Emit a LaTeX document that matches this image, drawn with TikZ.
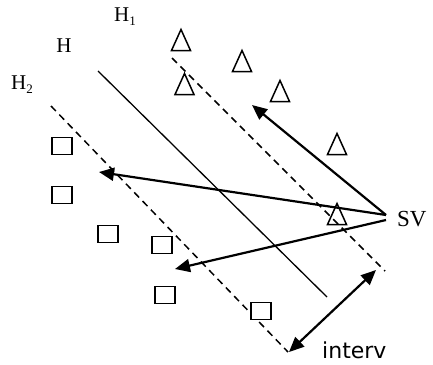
\documentclass[tikz,border=0pt]{standalone}
\usepackage{fontspec}
\setmainfont{Liberation Serif}
\newfontfamily\sansf{DejaVu Sans}
\usetikzlibrary{arrows.meta}
\tikzset{
  shapeline/.style={line width=1.5pt, black},
  hyper/.style={line width=1.3pt},
  margin/.style={line width=1.5pt, dash pattern=on 7pt off 5pt},
  vec/.style={line width=2.2pt, -{Triangle[length=15pt,width=13pt]}},
  dvec/.style={line width=2.2pt, {Triangle[length=15pt,width=13pt]}-{Triangle[length=15pt,width=13pt]}},
  lbl/.style={inner sep=0pt, font=\fontsize{21}{21}\selectfont},
  tri/.pic={\draw[shapeline] (-9.5,10.5) -- (0,-10.5) -- (9.5,10.5) -- cycle;},
  sq/.pic={\draw[shapeline, fill=white] (-10,-8.5) rectangle (10,8.5);}
}
\begin{document}
\begin{tikzpicture}[x=1pt,y=-1pt]
\useasboundingbox (0,0) rectangle (433,364);
% labels
\node[lbl] (h1) at (125,17) {H\raisebox{-4pt}{\fontsize{13}{13}\selectfont 1}};
\node[lbl] (h) at (64,46) {H};
\node[lbl] (h2) at (22,85) {H\raisebox{-4pt}{\fontsize{13}{13}\selectfont 2}};
% hyperplanes
\coordinate (hA) at (98,71);   \coordinate (hB) at (327,297);
\coordinate (h1A) at (172,58); \coordinate (h1B) at (385,271);
\coordinate (h2A) at (51,106); \coordinate (h2B) at (288,352);
\draw[hyper] (hA) -- (hB);
\draw[margin] (h1A) -- (h1B);
\draw[margin] (h2A) -- (h2B);
% triangles
\pic at (181,40) {tri};
\pic at (184.5,84) {tri};
\pic at (242,61) {tri};
\pic at (280,91) {tri};
\pic at (337,144) {tri};
% squares
\pic at (62,146) {sq};
\pic at (62,195) {sq};
\pic at (108,234) {sq};
\pic at (162,245) {sq};
\pic at (165,295) {sq};
\pic at (261,311) {sq};
% support vector arrows
\coordinate (sv) at (386,215);
\coordinate (sv2) at (386,220);
\coordinate (t1) at (252,105);
\coordinate (t2) at (99,172);
\coordinate (t3) at (175,269);
\draw[vec] (sv) -- (t1);
\draw[vec] (sv) -- (t2);
\draw[vec] (sv2) -- (t3);
\pic at (337,214) {tri};
\node[lbl, anchor=west, font=\fontsize{23}{23}\selectfont] (svl) at (397,219) {SV};
% margin width
\coordinate (m1) at (289,352);
\coordinate (m2) at (376,270);
\draw[dvec] (m1) -- (m2);
\node[inner sep=0pt, anchor=base west, font=\sansf\fontsize{22}{22}\selectfont] (iv) at (322,358) {interv};
\end{tikzpicture}
\end{document}
